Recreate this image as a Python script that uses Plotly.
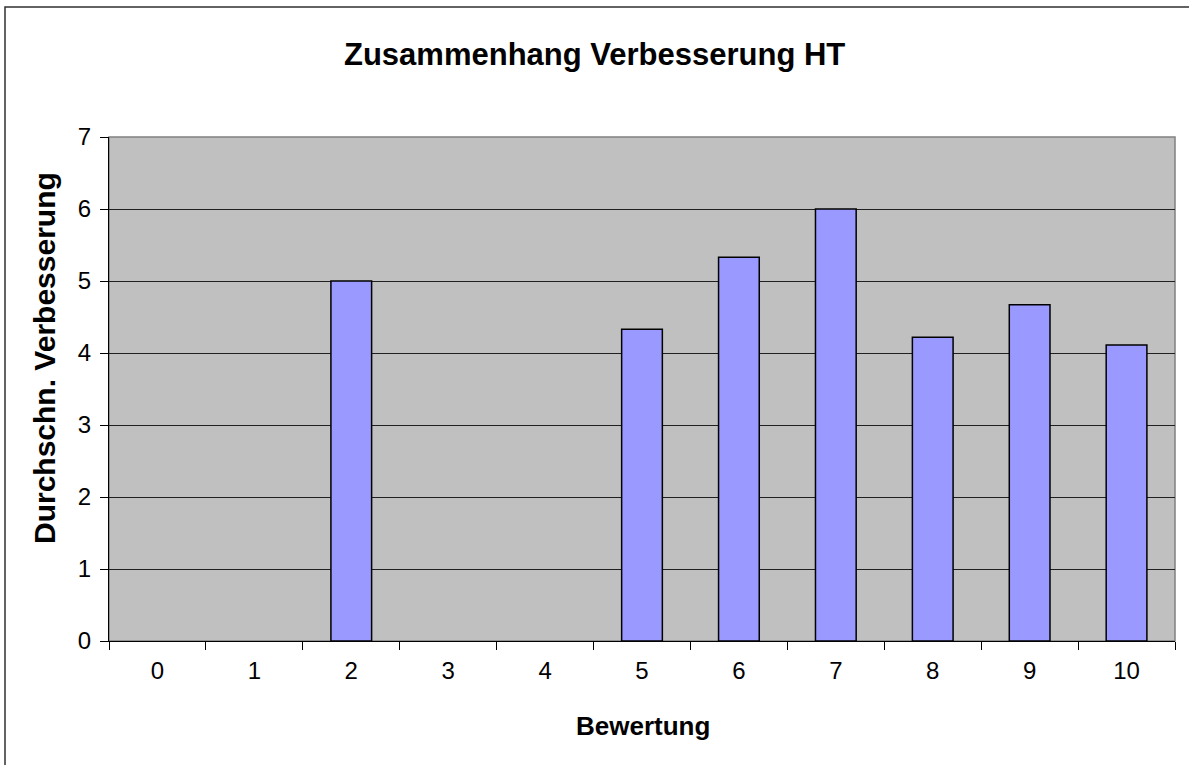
import plotly.graph_objects as go

# Data
bewertung = ["0", "1", "2", "3", "4", "5", "6", "7", "8", "9", "10"]
verbesserung = [None, None, 5.0, None, None, 4.33, 5.33, 6.0, 4.22, 4.67, 4.11]
y_ticks = [0, 1, 2, 3, 4, 5, 6, 7]

FONT = "Liberation Sans, Arial, sans-serif"

# plot area in pixels (from the reference)
L, R, T, B = 109, 1175, 137, 641
W, H = 1189, 765
pw, ph = R - L, B - T


def px_x(x):
    return (x - L) / pw


def px_y(y):
    return (B - y) / ph


fig = go.Figure()

fig.add_trace(go.Bar(
    x=bewertung,
    y=verbesserung,
    width=0.42,
    marker=dict(color='#9999FF', line=dict(color='black', width=1.5)),
    showlegend=False
))

fig.update_layout(
    width=W,
    height=H,
    paper_bgcolor='white',
    plot_bgcolor='#C0C0C0',
    margin=dict(l=L, r=W - R, t=T, b=H - B),
    font=dict(family=FONT, color='black'),
    xaxis=dict(
        type='category',
        tickson='boundaries',
        ticks='outside',
        ticklen=8,
        tickcolor='black',
        showline=True,
        linecolor='black',
        showgrid=False,
        tickfont=dict(size=24),
        ticklabelstandoff=8,
    ),
    yaxis=dict(
        range=[0, 7],
        tickvals=y_ticks,
        ticks='outside',
        ticklen=8,
        tickcolor='black',
        showline=True,
        linecolor='black',
        showgrid=True,
        gridcolor='#202020',
        gridwidth=1,
        zeroline=False,
        tickfont=dict(size=24),
        ticklabelstandoff=4,
    ),
    bargap=0.58,
)

# plot area border (gray top/right)
fig.add_shape(type='rect', xref='paper', yref='paper', x0=0, x1=1, y0=0, y1=1,
              line=dict(color='#808080', width=1.5), layer='below')

# outer chart border (only left and top edges fall inside the picture)
fig.add_shape(type='rect', xref='paper', yref='paper',
              x0=px_x(5), x1=px_x(1300), y0=px_y(900), y1=px_y(7),
              line=dict(color='#303030', width=1.5))

fig.add_annotation(text='<b>Zusammenhang Verbesserung HT</b>', xref='paper', yref='paper',
                   x=px_x(594), y=px_y(55), xanchor='center', yanchor='middle',
                   showarrow=False, font=dict(size=31, family=FONT))
fig.add_annotation(text='<b>Bewertung</b>', xref='paper', yref='paper',
                   x=px_x(643), y=px_y(726), xanchor='center', yanchor='middle',
                   showarrow=False, font=dict(size=26, family=FONT))
fig.add_annotation(text='<b>Durchschn. Verbesserung</b>', xref='paper', yref='paper',
                   x=px_x(44), y=px_y(358), xanchor='center', yanchor='middle',
                   textangle=-90, showarrow=False, font=dict(size=30, family=FONT))

# drop the default 8px page margin so the figure sits at the window's corner
fig.write_html("out.html", config={'displayModeBar': False},
               post_script="document.body.style.margin='0';")
